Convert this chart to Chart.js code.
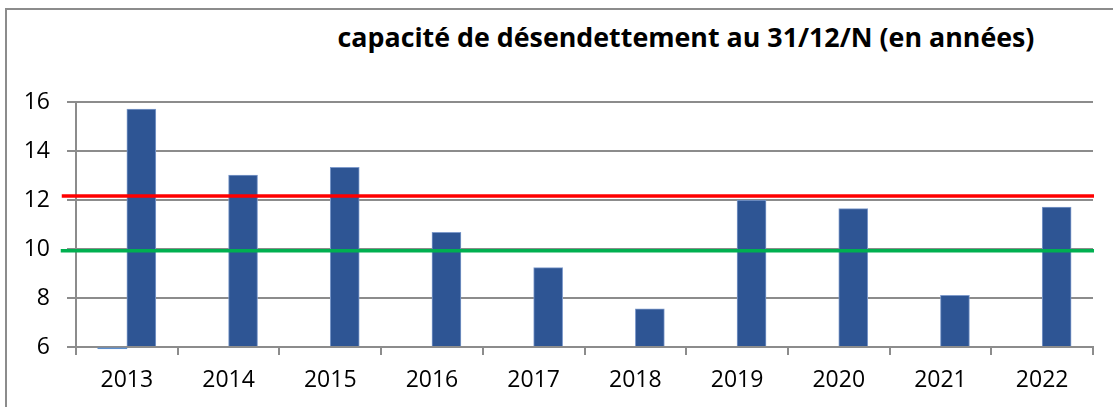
<!DOCTYPE html>
<html>
<head>
<meta charset="utf-8">
<script src="https://cdn.jsdelivr.net/npm/chart.js@4.4.1/dist/chart.umd.min.js"></script>
<style>
  html, body { margin: 0; padding: 0; background: #fff; overflow: hidden; }
  #wrap { position: relative; width: 1113px; height: 407px; }
  #frame { position: absolute; left: 5px; top: 8px; width: 2000px; height: 1000px; border: 2px solid #8c8c8c; box-sizing: border-box; }
  #title { position: absolute; left: 286px; width: 800px; top: 19px; text-align: center; font-family: "Open Sans", sans-serif; font-weight: bold; font-size: 26.8px; line-height: 1.362; color: #000; white-space: nowrap; }
  #cv { position: absolute; left: 0; top: 0; }
</style>
</head>
<body>
<div id="wrap">
  <div id="frame"></div>
  <div id="title">capacité de désendettement au 31/12/N (en années)</div>
  <canvas id="cv" width="1113" height="407"></canvas>
</div>
<script>
const years = ["2013","2014","2015","2016","2017","2018","2019","2020","2021","2022"];
const capacite = [15.71, 13.02, 13.33, 10.68, 9.24, 7.56, 12.0, 11.65, 8.11, 11.71];
const autreSerie = [5.93, null, null, null, null, null, null, null, null, null];
const seuilRouge = 12.16;
const seuilVert = 9.93;
const yTicks = [6, 8, 10, 12, 14, 16];

const gridGray = '#8c8c8c';
const font = { family: '"Open Sans", sans-serif', size: 23 };

new Chart(document.getElementById('cv'), {
  type: 'bar',
  data: {
    labels: years,
    datasets: [
      { type: 'line', label: 'seuil 12', xAxisID: 'x2', data: [{x: -0.14, y: seuilRouge}, {x: 10.01, y: seuilRouge}], borderColor: '#FF0000', borderWidth: 3.5, pointRadius: 0, clip: false, order: 1 },
      { label: 'série 1', data: autreSerie, backgroundColor: '#5B8FD0', borderWidth: 0, base: 6, clip: false, order: 2, barThickness: 29 },
      { label: 'capacité', data: capacite, backgroundColor: '#2E5594', borderColor: '#7F9BCB', borderWidth: 1, base: 6, order: 2, barThickness: 29 },
      { type: 'line', label: 'seuil 10', xAxisID: 'x2', data: [{x: -0.15, y: seuilVert}, {x: 10.01, y: seuilVert}], borderColor: '#00B050', borderWidth: 3.5, pointRadius: 0, clip: false, order: 1 }
    ]
  },
  options: {
    responsive: false,
    animation: false,
    layout: { padding: { left: 0, right: 20, top: 102, bottom: 0 } },
    plugins: { legend: { display: false }, tooltip: { enabled: false }, title: { display: false } },
    scales: {
      x: {
        type: 'category',
        offset: true,
        grid: { offset: true, drawOnChartArea: false, color: gridGray, lineWidth: 2, tickLength: 8 },
        border: { color: gridGray, width: 2 },
        ticks: { color: '#000', font: font, padding: 12, maxRotation: 0 },
        afterFit: (s) => { s.height = 60; }
      },
      x2: { type: 'linear', min: 0, max: 10, offset: false, display: false, grid: { offset: false } },
      y: {
        min: 6, max: 16,
        afterBuildTicks: (s) => { s.ticks = yTicks.map(v => ({ value: v })); },
        grid: { color: gridGray, lineWidth: 2, tickLength: 9 },
        border: { color: gridGray, width: 2 },
        ticks: { color: '#000', font: font, padding: 17 },
        afterFit: (s) => { s.width = 76; }
      }
    }
  }
});
</script>
</body>
</html>
